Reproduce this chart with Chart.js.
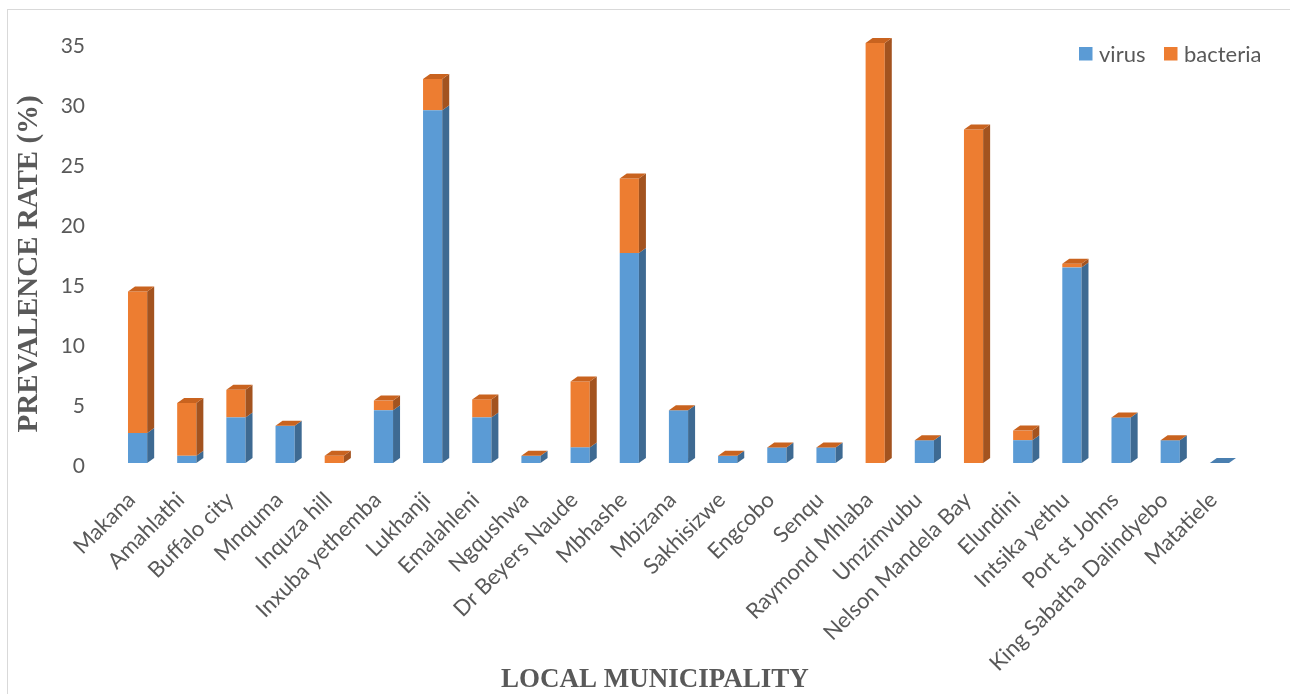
<!DOCTYPE html>
<html><head><meta charset="utf-8">
<script src="https://cdn.jsdelivr.net/npm/chart.js@4.4.0/dist/chart.umd.min.js"></script>
<style>
html,body{margin:0;padding:0;background:#fff;}
#wrap{position:relative;width:1290px;height:694px;overflow:hidden;}
#frame{position:absolute;left:7px;top:9px;right:-2px;bottom:-2px;border-left:1px solid #d9d9d9;border-top:1px solid #d9d9d9;}
canvas{position:absolute;left:0;top:0;}
</style></head><body>
<div id="wrap"><div id="frame"></div><canvas id="c" width="1290" height="694"></canvas></div>
<script>
const categories = ["Makana","Amahlathi","Buffalo city","Mnquma","Inquza hill","Inxuba yethemba","Lukhanji","Emalahleni","Ngqushwa","Dr Beyers Naude","Mbhashe","Mbizana","Sakhisizwe","Engcobo","Senqu","Raymond Mhlaba","Umzimvubu","Nelson Mandela Bay","Elundini","Intsika yethu","Port st Johns","King Sabatha Dalindyebo","Matatiele"];
const virus    = [2.5, 0.6, 3.8, 3.1, 0, 4.4, 29.4, 3.8, 0.6, 1.3, 17.5, 4.4, 0.6, 1.3, 1.3, 0, 1.9, 0, 1.9, 16.3, 3.8, 1.9, 0];
const bacteria = [11.8, 4.4, 2.3, 0, 0.6, 0.8, 2.6, 1.5, 0, 5.5, 6.2, 0, 0, 0, 0, 35, 0, 27.8, 0.8, 0.3, 0, 0, null];
const seriesNames = ["virus", "bacteria"];
const yMin = 0, yMax = 35, yStep = 5;
const yTitle = "PREVALENCE RATE (%)";
const xTitle = "LOCAL MUNICIPALITY";

const TXT = '#595959';
const DX = 7, DY = 5;

const bar3d = {
  id: 'bar3d',
  afterDatasetsDraw(chart) {
    const ctx = chart.ctx;
    const metas = chart.getSortedVisibleDatasetMetas();
    ctx.save();
    metas.forEach((meta, di) => {
      const ds = chart.data.datasets[meta.index];
      meta.data.forEach((el, i) => {
        const v = ds.data[i];
        if (v === null || v === undefined) return;
        const p = el.getProps(['x', 'y', 'base', 'width'], true);
        const l = p.x - p.width / 2, r = p.x + p.width / 2;
        const top = Math.min(p.y, p.base), bot = Math.max(p.y, p.base);
        if (bot - top > 0.3) {
          ctx.fillStyle = ds.sideColor;
          ctx.beginPath();
          ctx.moveTo(r, top); ctx.lineTo(r + DX, top - DY);
          ctx.lineTo(r + DX, bot - DY); ctx.lineTo(r, bot);
          ctx.closePath(); ctx.fill();
        }
        const isTop = metas.slice(di + 1).every(m => {
          const val = chart.data.datasets[m.index].data[i];
          return val === null || val === undefined;
        });
        if (isTop) {
          ctx.fillStyle = ds.topColor;
          ctx.beginPath();
          ctx.moveTo(l, top); ctx.lineTo(l + DX, top - DY);
          ctx.lineTo(r + DX, top - DY); ctx.lineTo(r, top);
          ctx.closePath(); ctx.fill();
        }
      });
    });
    ctx.restore();
  }
};

const legendBox = {
  id: 'legendBox',
  afterDraw(chart) {
    const ctx = chart.ctx;
    ctx.save();
    ctx.font = '22px Lato';
    ctx.textBaseline = 'middle';
    ctx.textAlign = 'left';
    const items = [{x: 1079, ds: chart.data.datasets[0]}, {x: 1164, ds: chart.data.datasets[1]}];
    items.forEach(it => {
      ctx.fillStyle = it.ds.backgroundColor;
      ctx.fillRect(it.x, 47, 13.5, 13.5);
      ctx.fillStyle = TXT;
      ctx.fillText(it.ds.label, it.x + 20, 54.5);
    });
    ctx.restore();
  }
};

new Chart(document.getElementById('c'), {
  type: 'bar',
  data: {
    labels: categories,
    datasets: [
      { label: seriesNames[0], data: virus, backgroundColor: '#5B9BD5', sideColor: '#3E6A92', topColor: '#4A7FB0', borderWidth: 0 },
      { label: seriesNames[1], data: bacteria, backgroundColor: '#ED7D31', sideColor: '#A3531F', topColor: '#C9631F', borderWidth: 0 }
    ]
  },
  options: {
    responsive: false,
    animation: false,
    events: [],
    layout: { padding: { left: 8, right: 46, top: 43, bottom: 0 } },
    datasets: { bar: { categoryPercentage: 1, barPercentage: 0.39 } },
    plugins: { legend: { display: false }, tooltip: { enabled: false } },
    scales: {
      x: {
        stacked: true,
        grid: { display: false, drawTicks: false },
        border: { display: false },
        ticks: { autoSkip: false, minRotation: 45, maxRotation: 45, padding: 24, labelOffset: -6, color: TXT, font: { family: 'Lato', size: 22 } },
        title: { display: true, text: xTitle + '       ', color: TXT, padding: { top: 0, bottom: -2 }, font: { family: "'Liberation Serif', 'Times New Roman', serif", size: 27, weight: 'bold' } },
        afterFit(scale) { scale.height = 231; }
      },
      y: {
        stacked: true,
        min: yMin, max: yMax,
        grid: { display: false, drawTicks: false },
        border: { display: false },
        ticks: { stepSize: yStep, padding: 28, labelOffset: 3, color: TXT, font: { family: 'Lato', size: 21 } },
        title: { display: true, text: yTitle + '   ', color: TXT, padding: { top: 4, bottom: 0 }, font: { family: "'Liberation Serif', 'Times New Roman', serif", size: 29, weight: 'bold' } },
        afterFit(scale) { scale.width = 105; }
      }
    }
  },
  plugins: [bar3d, legendBox]
});
</script>
</body></html>
